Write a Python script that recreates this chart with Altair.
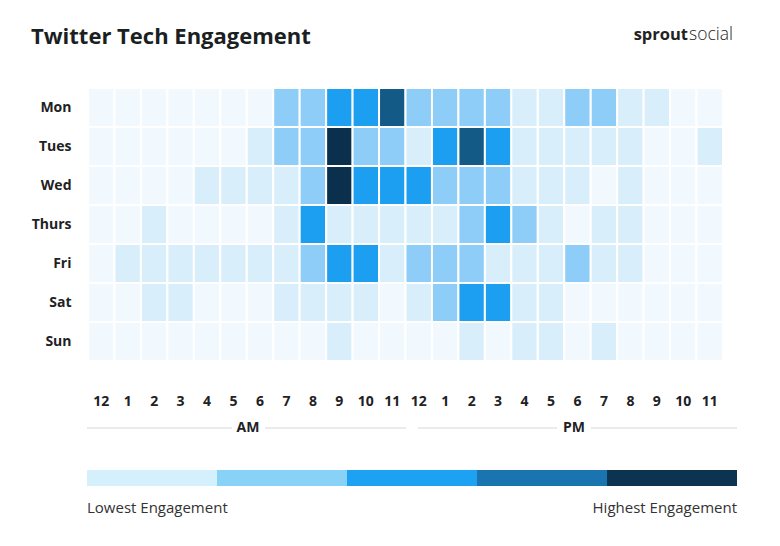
import altair as alt
import pandas as pd

# ---- data ----
days = ["Mon", "Tues", "Wed", "Thurs", "Fri", "Sat", "Sun"]
hours = list(range(24))
mon = [0, 0, 0, 0, 0, 0, 0, 2, 2, 3, 3, 4, 2, 2, 2, 2, 1, 1, 2, 2, 1, 1, 0, 0]
tue = [0, 0, 0, 0, 0, 0, 1, 2, 2, 5, 2, 2, 1, 3, 4, 3, 1, 1, 1, 1, 1, 0, 0, 1]
wed = [0, 0, 0, 0, 1, 1, 1, 1, 2, 5, 3, 3, 3, 2, 2, 2, 1, 1, 1, 0, 1, 0, 0, 0]
thu = [0, 0, 1, 0, 0, 0, 0, 1, 3, 1, 1, 1, 1, 1, 2, 3, 2, 1, 0, 1, 1, 0, 0, 0]
fri = [0, 1, 1, 1, 1, 1, 1, 1, 2, 3, 3, 1, 2, 2, 2, 1, 1, 1, 2, 1, 1, 0, 0, 0]
sat = [0, 0, 1, 1, 0, 0, 0, 1, 1, 1, 1, 0, 1, 2, 3, 3, 1, 1, 0, 0, 0, 0, 0, 0]
sun = [0, 0, 0, 0, 0, 0, 0, 0, 0, 1, 0, 0, 0, 0, 1, 0, 1, 1, 0, 1, 0, 0, 0, 0]
levels = [mon, tue, wed, thu, fri, sat, sun]

cell_colors = ["#f1f9fe", "#d9eefb", "#8dcdf7", "#1d9ff1", "#135a87", "#0b304d"]
legend_colors = ["#d4f0fc", "#88d1f7", "#1da1f2", "#1a74b0", "#0c3350"]
legend_labels = ["Lowest Engagement", "Highest Engagement"]
title_text = "Twitter Tech Engagement"
brand_bold = "sprout"
brand_light = "social"
period_labels = ["AM", "PM"]

FONT = "Open Sans"
DARK = "#1e2224"

rows = []
for d, lv in zip(days, levels):
    for h, v in zip(hours, lv):
        rows.append({"day": d, "hour": h, "level": v})
df = pd.DataFrame(rows)

W, H = 635, 273

heat = alt.Chart(df).mark_rect(stroke="white", strokeWidth=2).encode(
    x=alt.X("hour:O", sort=hours,
            scale=alt.Scale(paddingInner=0, paddingOuter=0),
            axis=alt.Axis(title=None, orient="bottom", labelAngle=0, ticks=False, domain=False,
                          grid=False, labelPadding=33, labelFont=FONT, labelFontSize=14,
                          labelFontWeight="bold", labelColor=DARK,
                          labelExpr="datum.value % 12 == 0 ? '12' : '' + (datum.value % 12)")),
    y=alt.Y("day:N", sort=days,
            scale=alt.Scale(paddingInner=0, paddingOuter=0),
            axis=alt.Axis(title=None, ticks=False, domain=False, grid=False, labelPadding=17,
                          labelFont=FONT, labelFontSize=14, labelFontWeight="bold",
                          labelColor=DARK)),
    color=alt.Color("level:O", scale=alt.Scale(domain=list(range(6)), range=cell_colors),
                    legend=None),
)

# legend bar
leg_df = pd.DataFrame({"i": list(range(5)), "i2": [i + 1 for i in range(5)], "c": legend_colors})
legend_bar = alt.Chart(leg_df).mark_rect().encode(
    x=alt.X("i:Q", scale=alt.Scale(domain=[0, 5], range=[-1, 649]), axis=None),
    x2="i2:Q",
    y=alt.value(382), y2=alt.value(398),
    color=alt.Color("c:N", scale=None, legend=None),
)

lo = alt.Chart(pd.DataFrame({"t": [legend_labels[0]]})).mark_text(
    align="left", baseline="middle", font=FONT, fontSize=15, color="#333"
).encode(text="t:N", x=alt.value(-1), y=alt.value(420))
hi = alt.Chart(pd.DataFrame({"t": [legend_labels[1]]})).mark_text(
    align="right", baseline="middle", font=FONT, fontSize=15, color="#333"
).encode(text="t:N", x=alt.value(649), y=alt.value(420))

# AM/PM separator lines
seg_x = [(-1, 144), (177, 318), (330, 469), (503, 649)]
lines = [
    alt.Chart(pd.DataFrame({"a": [0]})).mark_rule(color="#ebebeb", strokeWidth=2).encode(
        x=alt.value(a), x2=alt.value(b), y=alt.value(340))
    for a, b in seg_x
]
am = alt.Chart(pd.DataFrame({"t": [period_labels[0]]})).mark_text(
    align="center", baseline="middle", font=FONT, fontSize=14, fontWeight="bold", color=DARK
).encode(text="t:N", x=alt.value(160), y=alt.value(340))
pm = alt.Chart(pd.DataFrame({"t": [period_labels[1]]})).mark_text(
    align="center", baseline="middle", font=FONT, fontSize=14, fontWeight="bold", color=DARK
).encode(text="t:N", x=alt.value(486), y=alt.value(340))

title = alt.Chart(pd.DataFrame({"t": [title_text]})).mark_text(
    align="left", baseline="alphabetic", font=FONT, fontSize=22, fontWeight="bold", color="#1b1f1f"
).encode(text="t:N", x=alt.value(-57), y=alt.value(-44))

brand1 = alt.Chart(pd.DataFrame({"t": [brand_bold]})).mark_text(
    align="right", baseline="alphabetic", font=FONT, fontSize=16.5, fontWeight="bold", color="#222"
).encode(text="t:N", x=alt.value(600), y=alt.value(-48))
brand2 = alt.Chart(pd.DataFrame({"t": [brand_light]})).mark_text(
    align="left", baseline="alphabetic", font=FONT, fontSize=17.5, fontWeight=300, color="#222"
).encode(text="t:N", x=alt.value(601), y=alt.value(-48))

chart = alt.layer(heat, legend_bar, lo, hi, *lines, am, pm, title, brand1, brand2).resolve_scale(
    x="independent", color="independent"
).properties(
    width=W, height=H,
    autosize=alt.AutoSizeParams(type="none"),
    padding={"left": 80, "top": 80, "right": 49, "bottom": 177},
    background="white",
).configure_view(stroke=None)

chart.save("out.html", embed_options={"renderer": "svg", "actions": False})
